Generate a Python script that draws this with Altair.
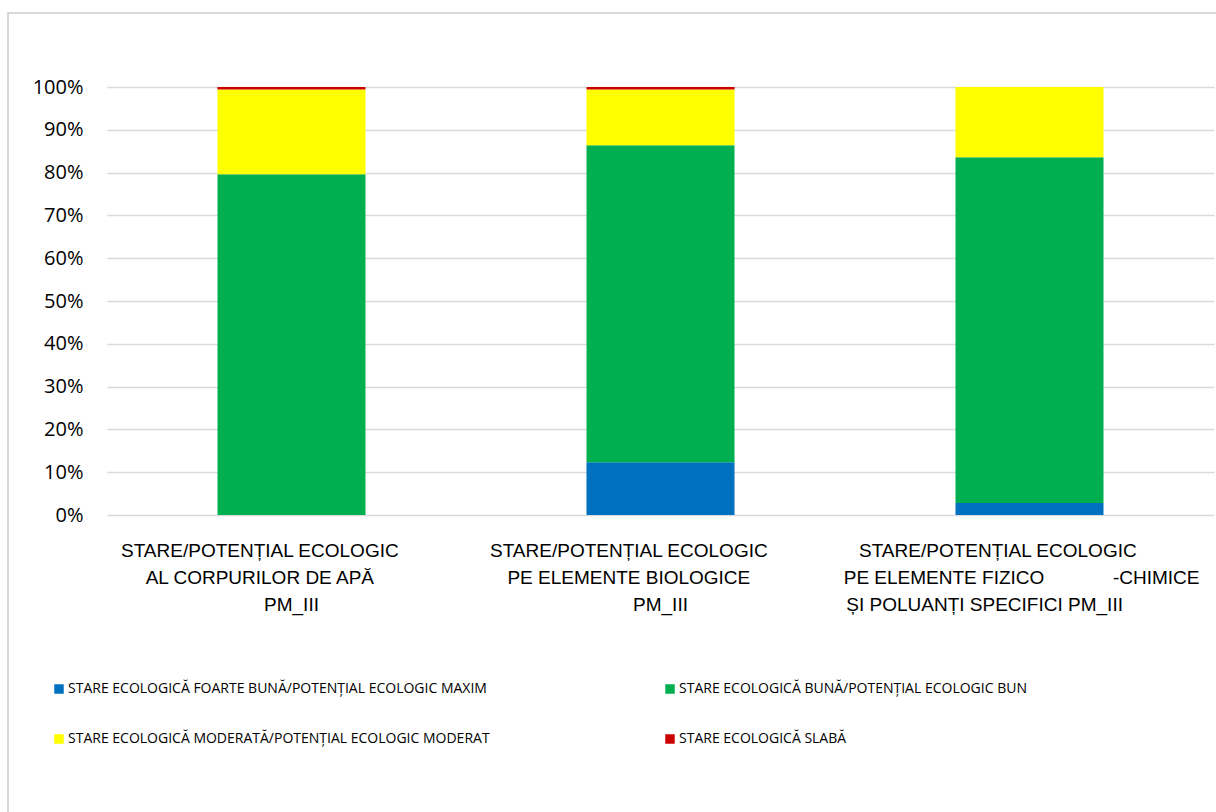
import altair as alt
import pandas as pd

NB = "\u00a0"
WJ = "\u2060"

categories = [
    "STARE/POTENȚIAL ECOLOGIC" + NB * 12 + WJ + "\nAL CORPURILOR DE APĂ" + NB * 12 + WJ + "\nPM_III",
    "STARE/POTENȚIAL ECOLOGIC" + NB * 12 + WJ + "\nPE ELEMENTE BIOLOGICE" + NB * 12 + WJ + "\nPM_III",
    "STARE/POTENȚIAL ECOLOGIC" + NB * 12 + WJ + "\nPE ELEMENTE FIZICO" + NB * 13 + "-CHIMICE" + NB * 3 + WJ
    + "\nȘI POLUANȚI SPECIFICI PM_III" + NB * 17 + WJ,
]
series = [
    "STARE ECOLOGICĂ FOARTE BUNĂ/POTENȚIAL ECOLOGIC MAXIM",
    "STARE ECOLOGICĂ BUNĂ/POTENȚIAL ECOLOGIC BUN",
    "STARE ECOLOGICĂ MODERATĂ/POTENȚIAL ECOLOGIC MODERAT",
    "STARE ECOLOGICĂ SLABĂ",
]
colors = ["#0070C0", "#00B050", "#FFFF00", "#CC0000"]
foarte_buna = [0.0, 12.3, 2.8]
buna = [79.6, 74.1, 80.8]
moderata = [19.8, 13.0, 16.4]
slaba = [0.6, 0.6, 0.0]

rows = []
for s_i, (s, vals) in enumerate(zip(series, [foarte_buna, buna, moderata, slaba])):
    for c, v in zip(categories, vals):
        rows.append({"cat": c, "serie": s, "val": v, "ord": s_i})
df = pd.DataFrame(rows)

# legend grid fills column-wise; reorder so rows read like the reference
legend_order = [series[0], series[2], series[1], series[3]]
legend_colors = [colors[0], colors[2], colors[1], colors[3]]

bars = alt.Chart(df).mark_bar(size=148).encode(
    x=alt.X("cat:N", sort=categories, title=None,
            scale=alt.Scale(paddingInner=0.6, paddingOuter=0.3),
            axis=alt.Axis(labelAngle=0, labelExpr="split(datum.label, '\\n')",
                          labelFont="Liberation Sans", labelFontSize=19,
                          labelColor="#000000", labelLineHeight=27, labelPadding=26,
                          ticks=False, domain=False, labelLimit=500)),
    y=alt.Y("val:Q", stack="normalize", title=None,
            scale=alt.Scale(domain=[0, 1]),
            axis=alt.Axis(format=".0%", values=[i / 10 for i in range(11)],
                          labelFont="Open Sans", labelFontSize=20, labelColor="#000000",
                          labelPadding=24, ticks=False, domain=False,
                          gridColor="#D9D9D9", gridWidth=1.5)),
    color=alt.Color("serie:N", sort=legend_order,
                    scale=alt.Scale(domain=legend_order, range=legend_colors),
                    legend=alt.Legend(title=None, orient="none", legendX=-55, legendY=595,
                                      columns=2, columnPadding=173, rowPadding=36,
                                      symbolType="square", symbolSize=90, symbolStrokeWidth=0,
                                      labelFont="Open Sans", labelFontSize=14,
                                      labelColor="#000000", labelLimit=700, labelOffset=2,
                                      symbolOffset=0)),
    order=alt.Order("ord:Q"),
)

frame = alt.Chart(pd.DataFrame({"a": [0]})).mark_rect(
    fill=None, stroke="#D9D9D9", strokeWidth=2
).encode(x=alt.value(-99), x2=alt.value(1115), y=alt.value(-74), y2=alt.value(732))

chart = alt.layer(frame, bars).properties(
    width=1107, height=428,
    autosize=alt.AutoSizeParams(type="none"),
    padding={"left": 107, "top": 87, "right": 2, "bottom": 297},
).configure_view(stroke=None)

chart.save("out.html", embed_options={"renderer": "svg", "actions": False})
